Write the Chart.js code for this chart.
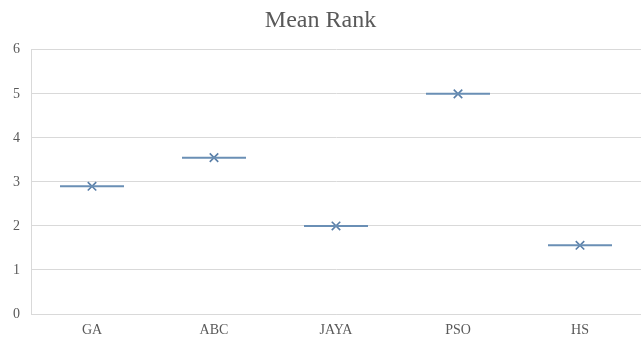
<!DOCTYPE html>
<html>
<head>
<meta charset="utf-8">
<script src="https://cdn.jsdelivr.net/npm/chart.js@4/dist/chart.umd.min.js"></script>
<style>
  html, body { margin: 0; padding: 0; background: #fff; }
  #wrap { width: 641px; height: 351px; }
</style>
</head>
<body>
<div id="wrap"><canvas id="rankChart"></canvas></div>
<script>
// data
const algorithms = ['GA', 'ABC', 'JAYA', 'PSO', 'HS'];
const meanRank = [2.9, 3.55, 2.0, 5.0, 1.56];
const yTicks = [0, 1, 2, 3, 4, 5, 6];

const lineColor = '#6a8fb5';
const markColor = '#5a7fa8';
const textColor = '#595959';
const gridColor = '#d9d9d9';

const ctx = document.getElementById('rankChart').getContext('2d');
let rankChart = new Chart(ctx, {
    type: 'line',
    data: {
        labels: algorithms,
        datasets: [
            {
                // horizontal bar for each mean
                label: 'mean line',
                data: meanRank,
                showLine: false,
                pointStyle: 'line',
                pointRadius: 32,
                pointBorderWidth: 2,
                pointBorderColor: lineColor,
                pointBackgroundColor: lineColor
            },
            {
                // the X marker
                label: 'mean',
                data: meanRank,
                showLine: false,
                pointStyle: 'crossRot',
                pointRadius: 6,
                pointBorderWidth: 1.6,
                pointBorderColor: markColor,
                pointBackgroundColor: markColor
            }
        ]
    },
    options: {
        responsive: true,
        maintainAspectRatio: false,
        animation: false,
        layout: { autoPadding: false, padding: 0 },
        plugins: {
            legend: { display: false },
            tooltip: { enabled: false },
            title: {
                display: true,
                text: 'Mean Rank',
                color: textColor,
                font: { family: 'Liberation Serif', size: 24, weight: 'normal' },
                padding: { top: 6, bottom: 15 }
            }
        },
        scales: {
            x: {
                offset: true,
                grid: { display: false, drawTicks: false },
                border: { display: true, color: gridColor },
                ticks: {
                    color: textColor,
                    font: { family: 'Liberation Serif', size: 14 },
                    padding: 8
                },
                afterFit: function(scale) { scale.height = 37; }
            },
            y: {
                min: 0,
                max: 6,
                afterBuildTicks: function(scale) {
                    scale.ticks = yTicks.map(v => ({ value: v }));
                },
                grid: { color: gridColor, drawTicks: false },
                border: { display: true, color: gridColor },
                ticks: {
                    color: textColor,
                    font: { family: 'Liberation Serif', size: 14 },
                    padding: 11
                },
                afterFit: function(scale) { scale.width = 31; }
            }
        }
    }
});
</script>
</body>
</html>
